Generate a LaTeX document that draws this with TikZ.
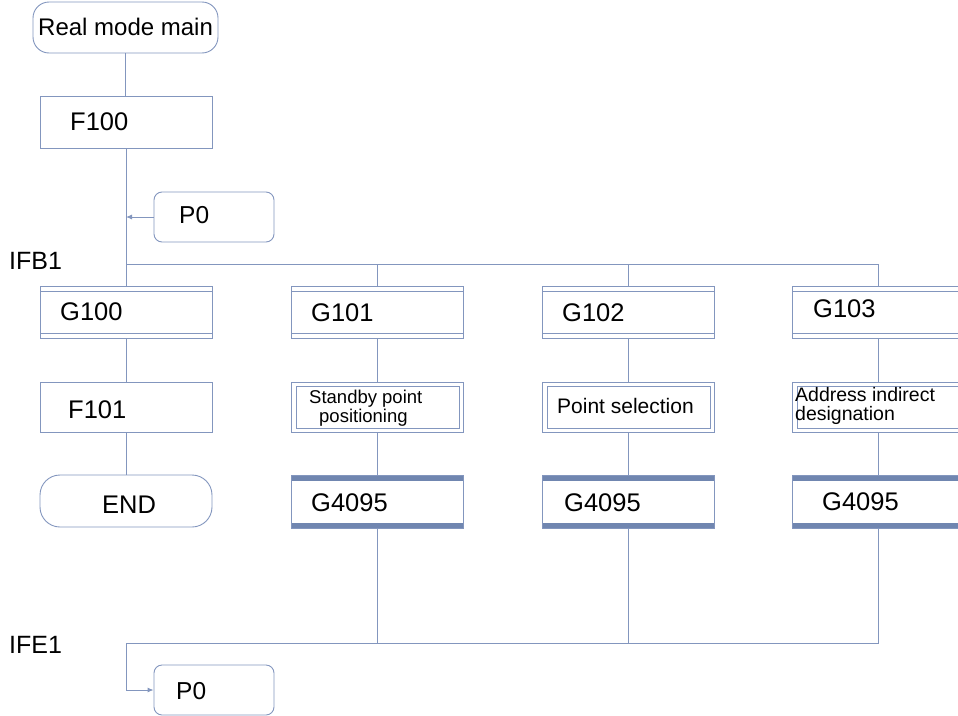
\documentclass[tikz,border=0pt]{standalone}
\usepackage{fontspec}
\setmainfont{Liberation Sans}
\usetikzlibrary{arrows.meta}
\definecolor{lc}{RGB}{131,150,190}
\definecolor{bar}{RGB}{112,134,176}
\tikzset{
  box/.style={draw=lc, line width=0.9pt, inner sep=0pt, minimum width=172pt, minimum height=52pt},
  term/.style={box, rounded corners=16pt},
  subr/.style={box, rounded corners=8pt, minimum width=120pt, minimum height=50pt},
  gbox/.style={box, path picture={
      \draw[lc, line width=0.9pt] ([yshift=-5pt]path picture bounding box.north west) -- ([yshift=-5pt]path picture bounding box.north east);
      \draw[lc, line width=0.9pt] ([yshift=5pt]path picture bounding box.south west) -- ([yshift=5pt]path picture bounding box.south east);}},
  endbox/.style={box, minimum height=53pt, path picture={
      \fill[bar] (path picture bounding box.north west) rectangle ([yshift=-6pt]path picture bounding box.north east);
      \fill[bar] (path picture bounding box.south west) rectangle ([yshift=5pt]path picture bounding box.south east);}},
  dbox/.style={box, minimum height=50pt, path picture={
      \draw[lc, line width=0.9pt] ([xshift=5pt,yshift=4pt]path picture bounding box.south west) rectangle ([xshift=-4pt,yshift=-4pt]path picture bounding box.north east);}},
  conn/.style={draw=lc, line width=0.9pt},
  arr/.style={conn, -{Latex[length=6pt,width=5pt]}},
  big/.style={anchor=base west, inner sep=0pt, font=\fontsize{25.5}{28}\selectfont},
  small/.style={anchor=base west, inner sep=0pt, font=\fontsize{18.5}{20}\selectfont},
}
\begin{document}
\begin{tikzpicture}[x=1pt,y=-1pt]
\useasboundingbox (0,0) rectangle (958,715);
\clip (0,0) rectangle (958,715);
% boxes
\node[term, minimum width=185pt, minimum height=51pt] (rm) at (125.5,27.5) {};
\node[box] (f100) at (126,122) {};
\node[subr] (p0a) at (214,217) {};
\node[gbox] (g100) at (126,312) {};
\node[gbox] (g101) at (377,312) {};
\node[gbox] (g102) at (628,312) {};
\node[gbox] (g103) at (878,312) {};
\node[box, minimum height=50pt] (f101) at (126,407) {};
\node[dbox] (sp) at (377,407) {};
\node[dbox] (ps) at (628,407) {};
\node[dbox] (ad) at (878,407) {};
\node[term, minimum height=52pt, rounded corners=20pt] (endn) at (126,501) {};
\node[endbox] (e1) at (377,501.5) {};
\node[endbox] (e2) at (628,501.5) {};
\node[endbox] (e3) at (878,501.5) {};
\node[subr] (p0b) at (214,690) {};
% texts
\node[big, font=\fontsize{24}{28}\selectfont] (rmt) at (38,35) {Real mode main};
\node[big] (f100t) at (70,130) {F100};
\node[big, font=\fontsize{24.5}{28}\selectfont] (p0at) at (179,223) {P0};
\node[big, font=\fontsize{25}{28}\selectfont] (ifb) at (9,269) {IFB1};
\node[big] (g100t) at (60,320) {G100};
\node[big] (g101t) at (311,321) {G101};
\node[big] (g102t) at (562,321) {G102};
\node[big] (g103t) at (813,317) {G103};
\node[big] (f101t) at (68,418) {F101};
\node[small] (spt1) at (309,403) {Standby point};
\node[small] (spt2) at (319,422) {positioning};
\node[big, font=\fontsize{21}{24}\selectfont] (pst) at (557,413) {Point selection};
\node[small, font=\fontsize{19.5}{21}\selectfont] (adt1) at (795,401) {Address indirect};
\node[small, font=\fontsize{19.5}{21}\selectfont] (adt2) at (795,420) {designation};
\node[big] (endt) at (102,513) {END};
\node[big] (e1t) at (311,511) {G4095};
\node[big] (e2t) at (564,511) {G4095};
\node[big] (e3t) at (822,510) {G4095};
\node[big, font=\fontsize{25}{28}\selectfont] (ife) at (9,653) {IFE1};
\node[big, font=\fontsize{24.5}{28}\selectfont] (p0bt) at (176,699) {P0};
% connectors
\coordinate (jb) at (126,264);
\coordinate (je) at (126,643);
\draw[conn] (rm.south) -- (rm.south |- f100.north);
\draw[conn] (f100) -- (g100);
\draw[arr] (p0a.west) -- (p0a.west -| f100.south);
\draw[conn] (jb) -- (jb -| g103.north) -- (g103.north);
\draw[conn] (jb -| g101.north) -- (g101.north);
\draw[conn] (jb -| g102.north) -- (g102.north);
\draw[conn] (g100) -- (f101);
\draw[conn] (f101) -- (endn);
\draw[conn] (g101) -- (sp);
\draw[conn] (sp) -- (e1);
\draw[conn] (g102) -- (ps);
\draw[conn] (ps) -- (e2);
\draw[conn] (g103) -- (ad);
\draw[conn] (ad) -- (e3);
\draw[conn] (e1.south) -- (e1.south |- je);
\draw[conn] (e2.south) -- (e2.south |- je);
\draw[conn] (e3.south) -- (e3.south |- je) -- (je);
\draw[arr] (je) -- (je |- p0b.west) -- (p0b.west);
\end{tikzpicture}
\end{document}
